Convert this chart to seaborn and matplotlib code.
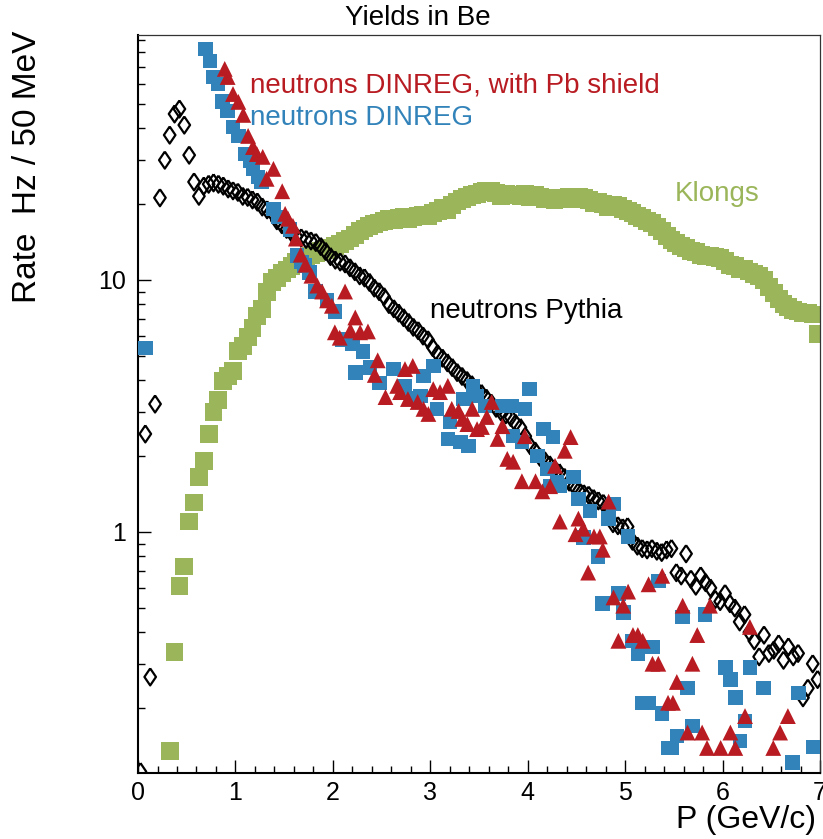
import numpy as np
import pandas as pd
import seaborn as sns
import matplotlib.pyplot as plt
from matplotlib.ticker import LogLocator, FixedLocator, FixedFormatter, MultipleLocator

# Klongs, 50 MeV bins starting at 0.325 GeV/c
klong_y = [0.135, 0.334, 0.61, 0.73, 1.10, 1.31, 1.65, 1.91, 2.45, 2.99,
           3.34, 3.97, 4.17, 4.35, 5.23, 5.47, 5.94, 6.45, 7.2, 7.67,
           8.96, 9.8, 10.2, 10.7, 11.0, 11.4, 11.8, 12.0, 12.3, 12.5,
           12.8, 13.0, 13.2, 13.4, 13.6, 13.9, 14.3, 14.6, 15.1, 15.6,
           16.0, 16.4, 16.7, 16.9, 17.2, 17.5, 17.3, 17.6, 17.8, 17.5,
           17.7, 17.9, 18.2, 18.0, 18.4, 18.8, 19.3, 19.0, 19.8, 20.5,
           20.9, 21.3, 21.8, 22.0, 22.4, 22.6, 22.5, 22.2, 21.5, 22.0,
           21.7, 21.8, 21.6, 21.9, 21.4, 21.7, 21.3, 21.0, 21.2, 20.8,
           21.1, 20.9, 21.3, 21.0, 21.4, 21.2, 20.7, 20.1, 20.5, 20.0,
           19.5, 19.8, 19.6, 19.2, 18.8, 18.4, 18.0, 17.6, 17.2, 16.8,
           16.2, 15.6, 15.0, 14.4, 14.0, 13.6, 13.4, 13.0, 12.9, 12.6,
           12.4, 12.5, 12.3, 12.2, 11.9, 11.5, 11.4, 11.0, 11.1, 10.8,
           10.6, 10.4, 10.0, 9.4, 8.9, 8.4, 8.0, 7.8, 7.6, 7.5,
           7.4, 7.4, 7.3, 6.1]
klong_x = 0.325 + 0.05 * np.arange(len(klong_y))

# neutrons Pythia, 50 MeV bins starting at 0.025 GeV/c
pythia_y = [0.112, 2.45, 0.266, 3.22, 21.2, 29.9, 37.6, 45.6, 47.7, 41.2,
            31.3, 24.5, 21.5, 23.6, 24.0, 24.3, 24.0, 23.6, 23.0, 22.6,
            22.3, 21.5, 21.3, 20.8, 20.4, 19.5, 19.0, 18.6, 17.2, 16.6,
            15.9, 15.4, 14.9, 14.7, 14.5, 14.3, 14.1, 13.6, 13.0, 12.4,
            12.0, 11.8, 11.6, 11.2, 10.8, 10.4, 10.2, 9.8, 9.3, 9.0,
            8.6, 8.0, 7.7, 7.4, 7.1, 6.8, 6.5, 6.3, 6.0, 5.8,
            5.4, 5.1, 4.9, 4.7, 4.5, 4.3, 4.15, 4.0, 3.85, 3.65,
            3.55, 3.4, 3.25, 3.1, 3.0, 2.92, 2.85, 2.7, 2.6, 2.4,
            2.2, 2.1, 1.98, 1.92, 1.85, 1.78, 1.72, 1.65, 1.58, 1.52,
            1.46, 1.42, 1.40, 1.36, 1.33, 1.30, 1.25, 1.08, 1.06, 1.04,
            1.05, 0.92, 0.88, 0.86, 0.85, 0.86, 0.84, 0.83, 0.85, 0.86,
            0.69, 0.67, 0.82, 0.65, 0.61, 0.67, 0.63, 0.60, 0.54, 0.53,
            0.57, 0.52, 0.50, 0.44, 0.47, 0.40, 0.37, 0.32, 0.39, 0.33,
            0.34, 0.36, 0.31, 0.35, 0.32, 0.33, 0.22, 0.24, 0.30, 0.26]
pythia_x = 0.025 + 0.05 * np.arange(len(pythia_y))

# neutrons DINREG
dinreg_x = [0.075, 0.69, 0.74, 0.77, 0.82, 0.87, 0.92, 0.975, 1.03, 1.10,
            1.15, 1.18, 1.23, 1.27, 1.39, 1.44, 1.56, 1.63, 1.68, 1.71,
            1.76, 1.82, 1.94, 2.02, 2.10, 2.20, 2.23, 2.31, 2.38, 2.48,
            2.62, 2.74, 2.80, 2.90, 2.93, 3.03, 3.07, 3.18, 3.20, 3.31,
            3.34, 3.39, 3.44, 3.48, 3.56, 3.74, 3.84, 3.85, 3.94, 3.97,
            4.02, 4.10, 4.16, 4.20, 4.23, 4.26, 4.30, 4.33, 4.47, 4.52,
            4.57, 4.64, 4.72, 4.77, 4.83, 4.88, 4.93, 4.98, 5.03, 5.07,
            5.13, 5.18, 5.24, 5.28, 5.34, 5.38, 5.44, 5.48, 5.53, 5.59,
            5.64, 5.69, 5.82, 6.03, 6.08, 6.13, 6.18, 6.23, 6.28, 6.42,
            6.72, 6.78, 6.93]
dinreg_y = [5.37, 82.5, 74.0, 64.0, 60.0, 51.0, 46.9, 40.5, 37.3, 31.6,
            29.7, 27.6, 25.6, 24.5, 19.1, 17.8, 15.9, 12.5, 11.8, 11.4,
            10.7, 9.0, 8.3, 7.5, 5.8, 5.6, 4.3, 5.2, 4.5, 3.9,
            4.43, 3.8, 3.4, 3.46, 4.16, 4.56, 3.08, 2.34, 2.73, 2.28,
            3.37, 2.19, 3.80, 3.46, 3.16, 3.16, 3.16, 2.40, 2.28, 3.08,
            3.69, 2.00, 2.56, 1.78, 1.52, 2.38, 1.58, 1.52, 1.65, 1.35,
            0.95, 1.21, 0.80, 0.52, 1.13, 1.29, 0.57, 0.48, 0.96, 0.37,
            0.33, 0.21, 0.21, 0.35, 0.64, 0.19, 0.139, 0.139, 0.155, 0.46,
            0.24, 0.17, 0.47, 0.29, 0.26, 0.22, 0.148, 0.178, 0.29, 0.24,
            0.122, 0.23, 0.14]

# neutrons DINREG, with Pb shield
shield_x = [0.89, 0.92, 0.975, 1.03, 1.08, 1.13, 1.18, 1.22, 1.28, 1.32,
            1.39, 1.48, 1.51, 1.54, 1.59, 1.62, 1.67, 1.72, 1.78, 1.84,
            1.89, 1.94, 1.99, 2.02, 2.07, 2.125, 2.18, 2.23, 2.28, 2.36,
            2.43, 2.46, 2.54, 2.66, 2.69, 2.74, 2.77, 2.82, 2.87, 2.93,
            2.98, 3.03, 3.10, 3.18, 3.22, 3.29, 3.33, 3.38, 3.43, 3.48,
            3.53, 3.58, 3.63, 3.69, 3.74, 3.79, 3.85, 3.94, 3.97, 4.08,
            4.15, 4.23, 4.28, 4.33, 4.38, 4.44, 4.49, 4.52, 4.57, 4.62,
            4.68, 4.74, 4.77, 4.83, 4.88, 4.93, 4.98, 5.03, 5.08, 5.13,
            5.18, 5.24, 5.28, 5.34, 5.38, 5.44, 5.49, 5.53, 5.59, 5.64,
            5.69, 5.74, 5.79, 5.84, 5.87, 5.98, 6.08, 6.13, 6.23, 6.28,
            6.52, 6.59, 6.67]
shield_y = [68.8, 63.9, 54.7, 50.9, 45.2, 37.3, 33.7, 31.6, 30.8, 25.2,
            27.6, 22.5, 18.3, 17.5, 16.4, 14.6, 12.6, 11.5, 10.4, 9.5,
            9.0, 8.3, 7.9, 6.2, 5.9, 9.0, 6.3, 7.1, 6.2, 6.25,
            4.2, 4.8, 3.43, 3.80, 3.59, 4.43, 3.37, 4.56, 3.28, 3.08,
            2.94, 3.69, 3.59, 3.80, 3.08, 3.02, 2.81, 2.68, 3.08, 2.56,
            2.61, 2.86, 3.28, 2.34, 2.63, 1.95, 1.90, 1.59, 2.40, 1.59,
            1.45, 1.52, 1.83, 1.10, 2.10, 2.38, 0.98, 1.13, 1.03, 0.69,
            0.96, 0.96, 0.85, 1.32, 0.55, 0.37, 0.51, 0.58, 0.39, 0.39,
            0.37, 0.62, 0.30, 0.30, 0.67, 0.21, 0.21, 0.254, 0.51, 0.16,
            0.30, 0.39, 0.16, 0.139, 0.51, 0.139, 0.16, 0.139, 0.186, 0.42,
            0.139, 0.16, 0.186]

green = "#9bb65a"
blue = "#3283ba"
red = "#b81c22"

sns.set_style("white")
plt.rcParams['font.family'] = ['Liberation Sans', 'DejaVu Sans']
plt.rcParams['text.color'] = 'black'

fig = plt.figure(figsize=(8.23, 8.39), dpi=100)
ax = fig.add_axes([0.1677, 0.0787, 0.8287, 0.8796])

klong_df = pd.DataFrame({"P": klong_x, "rate": klong_y})
pythia_df = pd.DataFrame({"P": pythia_x, "rate": pythia_y})
dinreg_df = pd.DataFrame({"P": dinreg_x, "rate": dinreg_y})
shield_df = pd.DataFrame({"P": shield_x, "rate": shield_y})

# slightly wider diamond than matplotlib's 'd'
diamond = [(0, 1), (0.68, 0), (0, -1), (-0.68, 0), (0, 1)]

sns.scatterplot(data=klong_df, x="P", y="rate", marker="s", s=165, color=green,
                edgecolor="none", ax=ax, zorder=2)
sns.scatterplot(data=pythia_df, x="P", y="rate", marker=diamond, s=150, facecolor="none",
                edgecolor="black", linewidth=1.6, ax=ax, zorder=3)
sns.scatterplot(data=dinreg_df, x="P", y="rate", marker="s", s=110, color=blue,
                edgecolor="none", ax=ax, zorder=4)
sns.scatterplot(data=shield_df, x="P", y="rate", marker="^", s=130, color=red,
                edgecolor="none", ax=ax, zorder=5)

ax.set_yscale("log")
ax.set_xlim(0, 7)
ax.set_ylim(0.1106, 93.8)
ax.set_xlabel("")
ax.set_ylabel("")

ax.xaxis.set_major_locator(MultipleLocator(1))
ax.xaxis.set_minor_locator(MultipleLocator(0.2))
ax.yaxis.set_major_locator(FixedLocator([1, 10]))
ax.yaxis.set_major_formatter(FixedFormatter(["1", "10"]))
ax.yaxis.set_minor_locator(LogLocator(base=10, subs=np.arange(2, 10)))
ax.yaxis.set_minor_formatter(FixedFormatter([]))

ax.tick_params(which="both", direction="in", top=False, right=False,
               left=True, bottom=True, labelsize=18, color="black",
               labelcolor="black")
ax.tick_params(which="major", length=9.5, width=1.0)
ax.tick_params(which="minor", length=5, width=1.0)
ax.tick_params(axis="y", pad=9)
ax.tick_params(axis="x", pad=6)

for side in ["left", "bottom"]:
    ax.spines[side].set_linewidth(1.5)
    ax.spines[side].set_color("black")
for side in ["top", "right"]:
    ax.spines[side].set_linewidth(0.9)
    ax.spines[side].set_color("#333333")

ax.text(0.164, 0.932, "neutrons DINREG, with Pb shield", color=red, fontsize=20,
        transform=ax.transAxes, va="center")
ax.text(0.164, 0.888, "neutrons DINREG", color=blue, fontsize=20,
        transform=ax.transAxes, va="center")
ax.text(0.428, 0.626, "neutrons Pythia", color="black", fontsize=20,
        transform=ax.transAxes, va="center")
ax.text(0.787, 0.784, "Klongs", color=green, fontsize=20,
        transform=ax.transAxes, va="center")

fig.text(0.508, 0.978, "Yields in Be", fontsize=20, ha="center", va="center")
fig.text(0.034, 0.963, "Rate  Hz / 50 MeV", fontsize=24, rotation=90,
         ha="center", va="top")
fig.text(0.991, 0.0226, "P (GeV/c)", fontsize=23, ha="right", va="center")

fig.savefig("out.png", dpi=100)
